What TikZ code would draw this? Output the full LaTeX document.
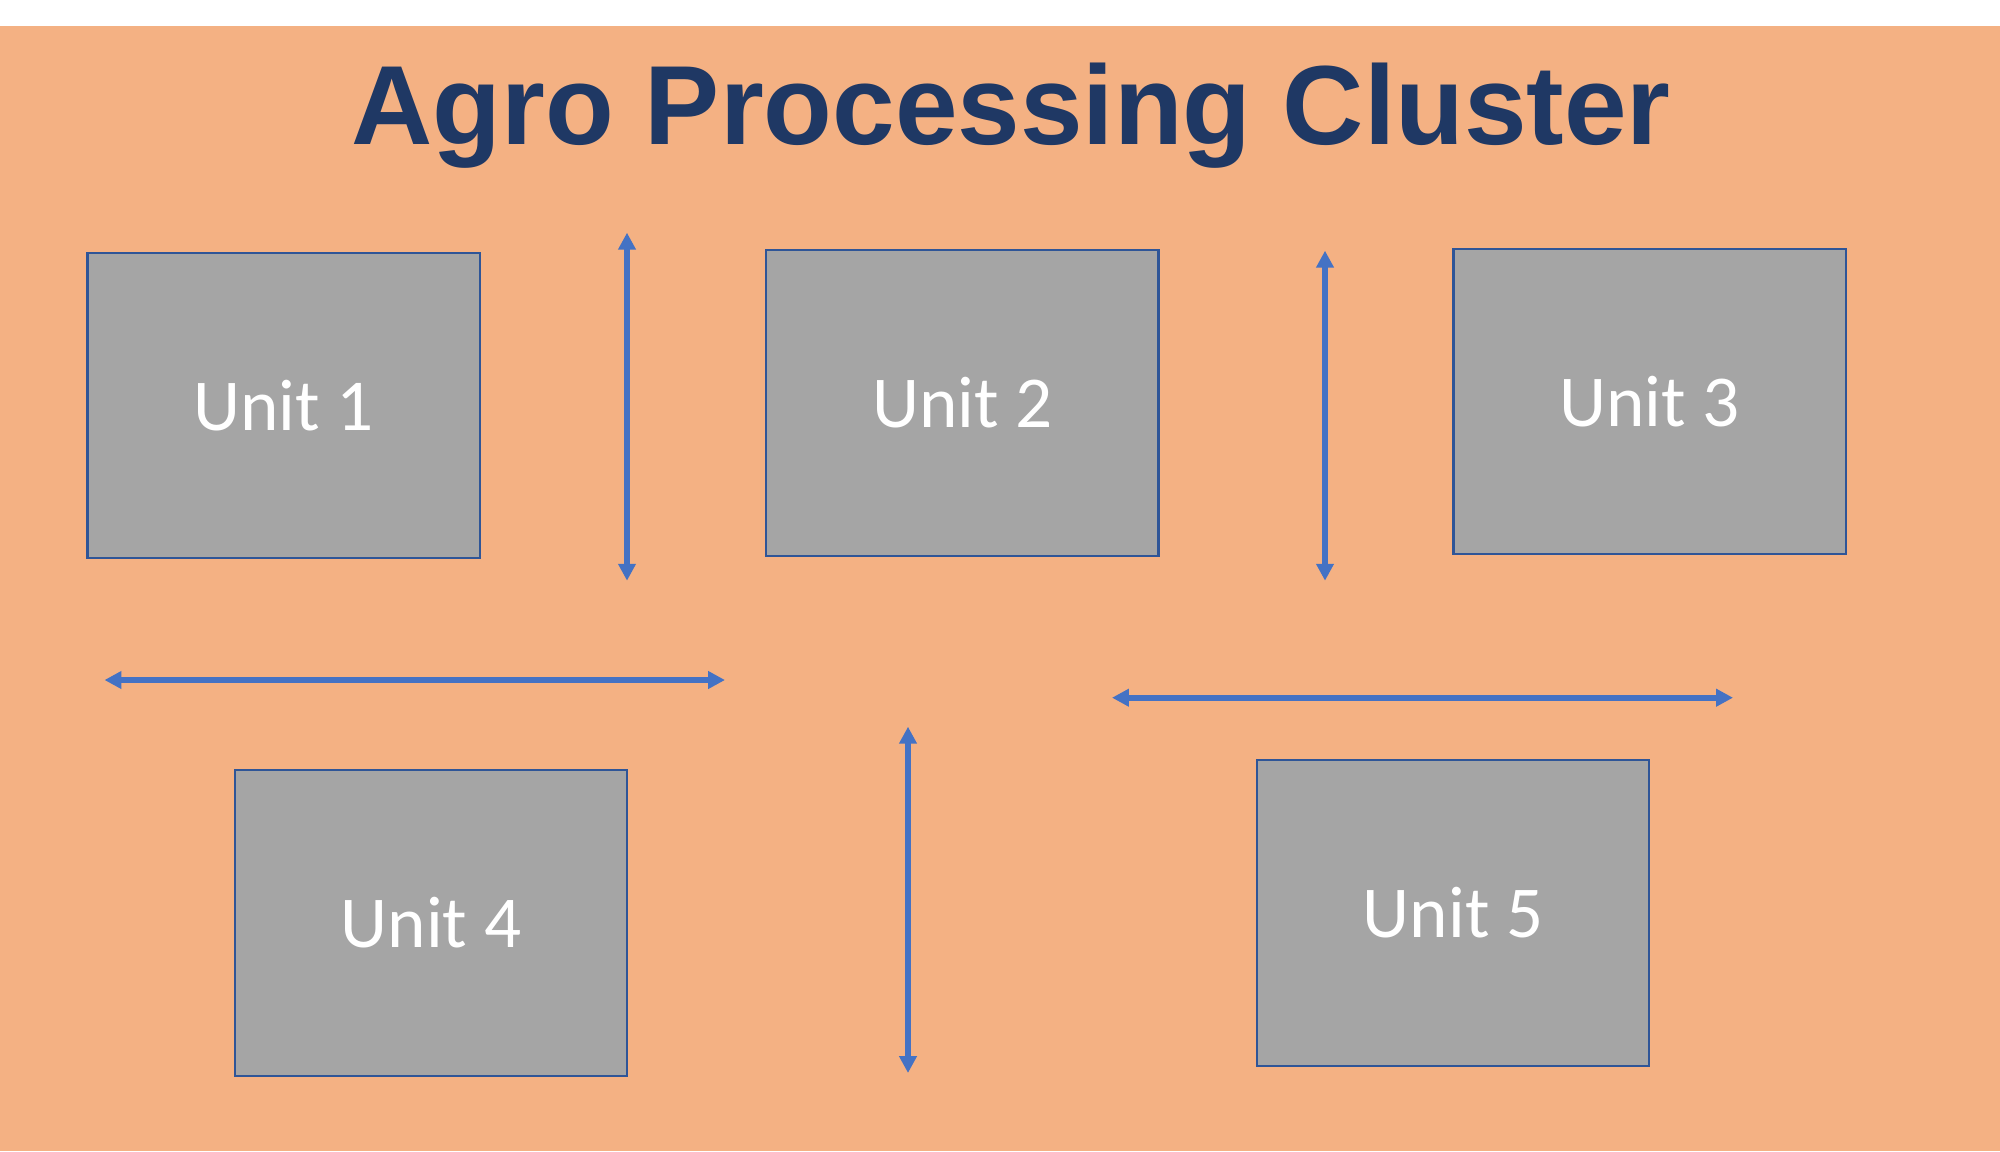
\documentclass[tikz,border=0pt]{standalone}
\usepackage{fontspec}
\setmainfont{Carlito}
\newfontfamily\headfont{Liberation Sans}
\usepackage{xcolor}
\usepackage{tikz}
\usetikzlibrary{arrows.meta}

\definecolor{bgorange}{HTML}{F4B183}
\definecolor{unitgray}{HTML}{A5A5A5}
\definecolor{unitedge}{HTML}{2F5597}
\definecolor{linkblue}{HTML}{4472C4}
\definecolor{titlenavy}{HTML}{1F3864}

\begin{document}
\begin{tikzpicture}[
    x=0.01cm, y=-0.01cm,
    unit/.style={draw=unitedge, fill=unitgray, line width=0.6pt, minimum width=3.92cm, minimum height=3.05cm, inner sep=0pt, outer sep=0pt, text=white, font=\fontsize{20.8}{25}\selectfont},
    heading/.style={font=\headfont\bfseries\fontsize{32}{38}\selectfont, text=titlenavy, inner sep=0pt},
    link/.style={{Triangle[length=4.8pt, width=4.8pt]}-{Triangle[length=4.8pt, width=4.8pt]}, line width=1.7pt, draw=linkblue}
  ]
    \useasboundingbox (0,0) rectangle (2000,1151);
    \fill[bgorange] (0,26) rectangle (2000,1151);

    \node[heading, anchor=base] (title) at (1011,144) {Agro Processing Cluster};

    \node[unit] (u1) at (283.6,405.8) {Unit 1};
    \node[unit] (u2) at (962.4,403) {Unit 2};
    \node[unit] (u3) at (1649.6,401.7) {Unit 3};
    \node[unit] (u4) at (431,923) {Unit 4};
    \node[unit] (u5) at (1453,913) {Unit 5};

    \coordinate (v1a) at (627,232.7);
    \coordinate (v1b) at (627,580.7);
    \coordinate (v2a) at (1325,250.7);
    \coordinate (v2b) at (1325,580.7);
    \coordinate (v3a) at (908,726.7);
    \coordinate (v3b) at (908,1073);
    \coordinate (h1a) at (104.5,680);
    \coordinate (h1b) at (725,680);
    \coordinate (h2a) at (1112,697.7);
    \coordinate (h2b) at (1733,697.7);

    \draw[link] (v1a) -- (v1b);
    \draw[link] (v2a) -- (v2b);
    \draw[link] (v3a) -- (v3b);
    \draw[link] (h1a) -- (h1b);
    \draw[link] (h2a) -- (h2b);
  \end{tikzpicture}
\end{document}
